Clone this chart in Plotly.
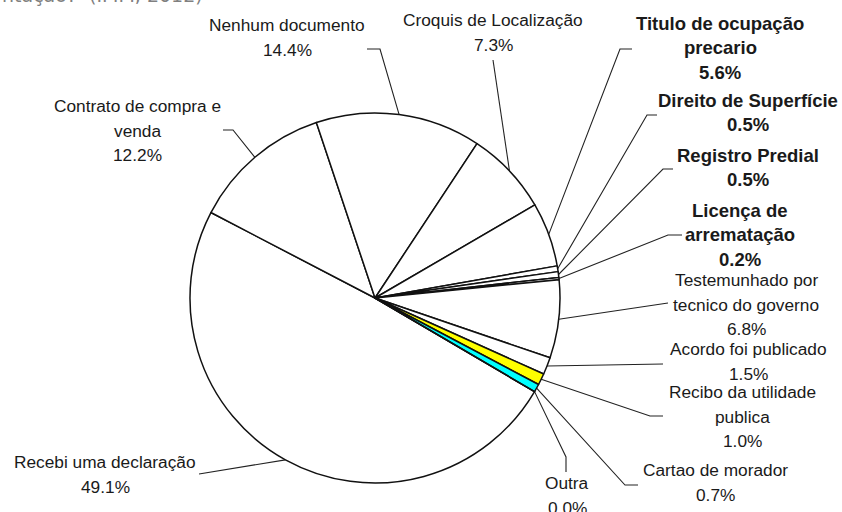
import math
import plotly.graph_objects as go

# ---- data ----
labels = ["Recebi uma declaração", "Contrato de compra e venda", "Nenhum documento",
          "Croquis de Localização", "Titulo de ocupação precario", "Direito de Superfície",
          "Registro Predial", "Licença de arrematação", "Testemunhado por tecnico do governo",
          "Acordo foi publicado", "Recibo da utilidade publica", "Cartao de morador", "Outra"]
values = [49.1, 12.2, 14.4, 7.3, 5.6, 0.5, 0.5, 0.2, 6.8, 1.5, 1.0, 0.7, 0.0]
label_lines = [["Recebi uma declaração"], ["Contrato de compra e", "venda"], ["Nenhum documento"],
               ["Croquis de Localização"], ["Titulo de ocupação", "precario"], ["Direito de Superfície"],
               ["Registro Predial"], ["Licença de", "arrematação"], ["Testemunhado por", "tecnico do governo"],
               ["Acordo foi publicado"], ["Recibo da utilidade", "publica"], ["Cartao de morador"], ["Outra"]]
bold = [False, False, False, False, True, True, True, True, False, False, False, False, False]
colors = ["white"] * 10 + ["#FFFF00", "#00FFFF", "white"]

# ---- layout (pixel space) ----
W, H = 842, 512
cx, cy, R = 375, 298, 185
rotation = 120.4
# label block: (x center, y of first line), leader polyline end points
label_pos = [(105, 462), (137, 106), (287, 25), (493, 20), (720, 23), (748, 100),
             (748, 155), (740, 210), (746, 280), (748, 349), (742, 392), (715, 470), (567, 483)]
leaders = [[(199, 474)], [(233, 130), (223, 130)], [(380, 49), (367, 49)], [(493, 60)],
           [(620, 49), (632, 49)], [(647, 115), (657, 115)], [(663, 169), (673, 169)],
           [(668, 235), (682, 235)], [(668, 303)], [(663, 364)], [(650, 416), (663, 416)],
           [(625, 485), (638, 485)], [(566, 457), (566, 472)]]
LS = 24.5

fig = go.Figure()
fig.add_trace(go.Pie(
    labels=labels, values=values, sort=False, direction="clockwise", rotation=rotation,
    marker=dict(colors=colors, line=dict(color="#111111", width=1.5)),
    textinfo="none", hoverinfo="label+percent", showlegend=False,
    domain=dict(x=[(cx - R) / W, (cx + R) / W], y=[1 - (cy + R) / H, 1 - (cy - R) / H]),
))

total = sum(values)
cum = 0.0
annotations = []
for i, v in enumerate(values):
    a = math.radians(rotation + 360 * (cum + v / 2) / total)
    cum += v
    ex, ey = cx + R * math.sin(a), cy - R * math.cos(a)
    xs = [ex] + [p[0] for p in leaders[i]]
    ys = [ey] + [p[1] for p in leaders[i]]
    fig.add_trace(go.Scatter(x=xs, y=ys, mode="lines", line=dict(color="#222222", width=1.1),
                             hoverinfo="skip", showlegend=False))
    lines = label_lines[i] + [f"{v:.1f}%"]
    x0, y0 = label_pos[i]
    for k, t in enumerate(lines):
        txt = f"<b>{t}</b>" if bold[i] else t
        annotations.append(dict(x=x0, y=y0 + k * LS, xref="x", yref="y", text=txt, showarrow=False,
                                xanchor="center", yanchor="middle",
                                font=dict(family="Liberation Sans, Arial", size=18.5 if bold[i] else 17.3,
                                          color="#1a1a1a")))

annotations.append(dict(x=0, y=1 + 5 / H, xref="paper", yref="paper", text="ntação?  (IMM, 2012)",
                        showarrow=False, xanchor="left", yanchor="middle",
                        font=dict(family="DejaVu Sans", size=19, color="#808080")))

fig.update_layout(
    width=W, height=H, margin=dict(l=0, r=0, t=0, b=0),
    paper_bgcolor="white", plot_bgcolor="rgba(0,0,0,0)",
    xaxis=dict(range=[0, W], visible=False, fixedrange=True),
    yaxis=dict(range=[H, 0], visible=False, fixedrange=True),
    annotations=annotations,
)
fig.write_html("out.html", config={"displayModeBar": False},
               post_script="document.body.style.margin='0';document.body.style.overflow='hidden';")
